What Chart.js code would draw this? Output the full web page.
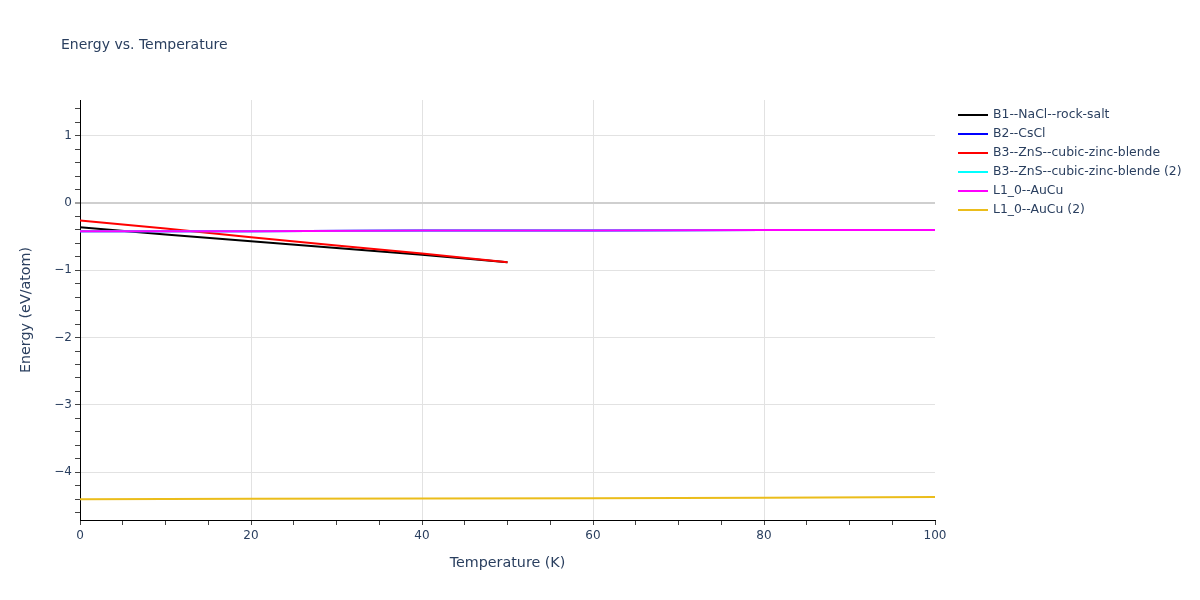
<!DOCTYPE html>
<html>
<head>
<meta charset="utf-8">
<script src="https://cdn.jsdelivr.net/npm/chart.js@4.4.1/dist/chart.umd.min.js"></script>
<style>
  html, body { margin: 0; padding: 0; background: #ffffff; }
  #wrap { width: 1200px; height: 600px; }
</style>
</head>
<body>
<div id="wrap"><canvas id="c" width="1200" height="600"></canvas></div>
<script>
// ---- data ----
const chartTitle = 'Energy vs. Temperature';
const xTitle = 'Temperature (K)';
const yTitle = 'Energy (eV/atom)';

const seriesNames = [
  'B1--NaCl--rock-salt',
  'B2--CsCl',
  'B3--ZnS--cubic-zinc-blende',
  'B3--ZnS--cubic-zinc-blende (2)',
  'L1_0--AuCu',
  'L1_0--AuCu (2)'
];
const seriesColors = ['#000000', '#0000ff', '#ff0000', '#00ffff', '#ff00ff', '#ebbd1b'];

const tempsShort = [0, 10, 20, 30, 40, 50];
const tempsLong = [0, 20, 40, 60, 80, 100];

const energyB1 = [-0.36, -0.47, -0.57, -0.67, -0.77, -0.88];
const energyB2 = [-0.42, -0.42, -0.41, -0.41, -0.40, -0.40];
const energyB3 = [-0.26, -0.38, -0.51, -0.63, -0.75, -0.88];
const energyB3b = [-0.42, -0.42, -0.41, -0.41, -0.40, -0.40];
const energyL10 = [-0.42, -0.42, -0.41, -0.41, -0.40, -0.40];
const energyL10b = [-4.40, -4.395, -4.39, -4.385, -4.38, -4.37];

const xTickLabels = [0, 20, 40, 60, 80, 100];
const yTickLabels = [-4, -3, -2, -1, 0, 1];

const seriesX = [tempsShort, tempsLong, tempsShort, tempsLong, tempsLong, tempsLong];
const seriesY = [energyB1, energyB2, energyB3, energyB3b, energyL10, energyL10b];

// ---- build chart ----
const FONT = 'Verdana, "DejaVu Sans", sans-serif';
const TXT = '#2a3f5f';

const datasets = seriesNames.map((name, i) => ({
  label: name,
  data: seriesX[i].map((x, k) => ({ x: x, y: seriesY[i][k] })),
  borderColor: seriesColors[i],
  backgroundColor: seriesColors[i],
  borderWidth: 2,
  pointRadius: 0,
  tension: 0,
  fill: false,
  order: seriesNames.length - i
}));

function isInt(v) { return Math.abs(v - Math.round(v)) < 1e-6; }
function fmt(v) { const r = Math.round(v); return r < 0 ? '\u2212' + Math.abs(r) : String(r); }

const overlay = {
  id: 'overlay',
  afterDraw(chart) {
    const ctx = chart.ctx;
    ctx.save();
    ctx.fillStyle = TXT;
    ctx.textBaseline = 'middle';
    ctx.textAlign = 'left';
    ctx.font = '14px ' + FONT;
    ctx.fillText(chartTitle, 61, 45);
    ctx.font = '12.4px ' + FONT;
    chart.data.datasets.forEach((ds, i) => {
      const y = 115 + i * 19;
      ctx.strokeStyle = ds.borderColor;
      ctx.lineWidth = 2;
      ctx.beginPath();
      ctx.moveTo(958, y);
      ctx.lineTo(988, y);
      ctx.stroke();
      ctx.fillStyle = TXT;
      ctx.fillText(ds.label, 993, y);
    });
    ctx.restore();
  }
};

new Chart(document.getElementById('c'), {
  type: 'line',
  data: { datasets: datasets },
  plugins: [overlay],
  options: {
    responsive: false,
    devicePixelRatio: 1,
    animation: false,
    layout: { padding: { left: 0, top: 100, right: 265, bottom: 0 } },
    plugins: {
      legend: { display: false },
      title: { display: false },
      tooltip: { enabled: false }
    },
    scales: {
      x: {
        type: 'linear',
        min: 0,
        max: 100,
        afterFit(scale) { scale.height = 80; },
        afterBuildTicks(scale) {
          const t = [];
          for (let v = 0; v <= 100; v += 5) t.push({ value: v });
          scale.ticks = t;
        },
        ticks: {
          autoSkip: false,
          maxRotation: 0,
          padding: 4,
          color: TXT,
          font: { family: FONT, size: 12 },
          callback: (v) => (xTickLabels.includes(v) ? String(v) : '')
        },
        grid: {
          color: (c) => {
            const v = c.tick ? c.tick.value : null;
            return (v !== null && v % 20 === 0 && v > 0 && v < 100) ? '#e2e2e2' : 'rgba(0,0,0,0)';
          },
          lineWidth: 1,
          drawTicks: true,
          tickLength: 5,
          tickColor: '#444444',
          tickWidth: 1
        },
        border: { display: true, color: '#000000', width: 1 },
        title: {
          display: true,
          text: xTitle,
          color: TXT,
          font: { family: FONT, size: 14.3 },
          padding: { top: 0, bottom: 28.4 }
        }
      },
      y: {
        type: 'linear',
        min: -4.71,
        max: 1.53,
        afterFit(scale) { scale.width = 80; },
        afterBuildTicks(scale) {
          const t = [];
          for (let k = -23; k <= 7; k++) t.push({ value: Math.round(k * 0.2 * 1000) / 1000 });
          scale.ticks = t;
        },
        ticks: {
          autoSkip: false,
          padding: 3,
          color: TXT,
          font: { family: FONT, size: 12 },
          callback: (v) => (isInt(v) && yTickLabels.includes(Math.round(v)) ? fmt(v) : '')
        },
        grid: {
          color: (c) => {
            const v = c.tick ? c.tick.value : null;
            if (v === null || !isInt(v)) return 'rgba(0,0,0,0)';
            return Math.round(v) === 0 ? '#cfcfcf' : '#e2e2e2';
          },
          lineWidth: (c) => (c.tick && Math.abs(c.tick.value) < 1e-6 ? 2 : 1),
          drawTicks: true,
          tickLength: 5,
          tickColor: '#444444',
          tickWidth: 1
        },
        border: { display: true, color: '#000000', width: 1 },
        title: {
          display: true,
          text: yTitle,
          color: TXT,
          font: { family: FONT, size: 14.3 },
          padding: { top: 17.5, bottom: 0 }
        }
      }
    }
  }
});
</script>
</body>
</html>
